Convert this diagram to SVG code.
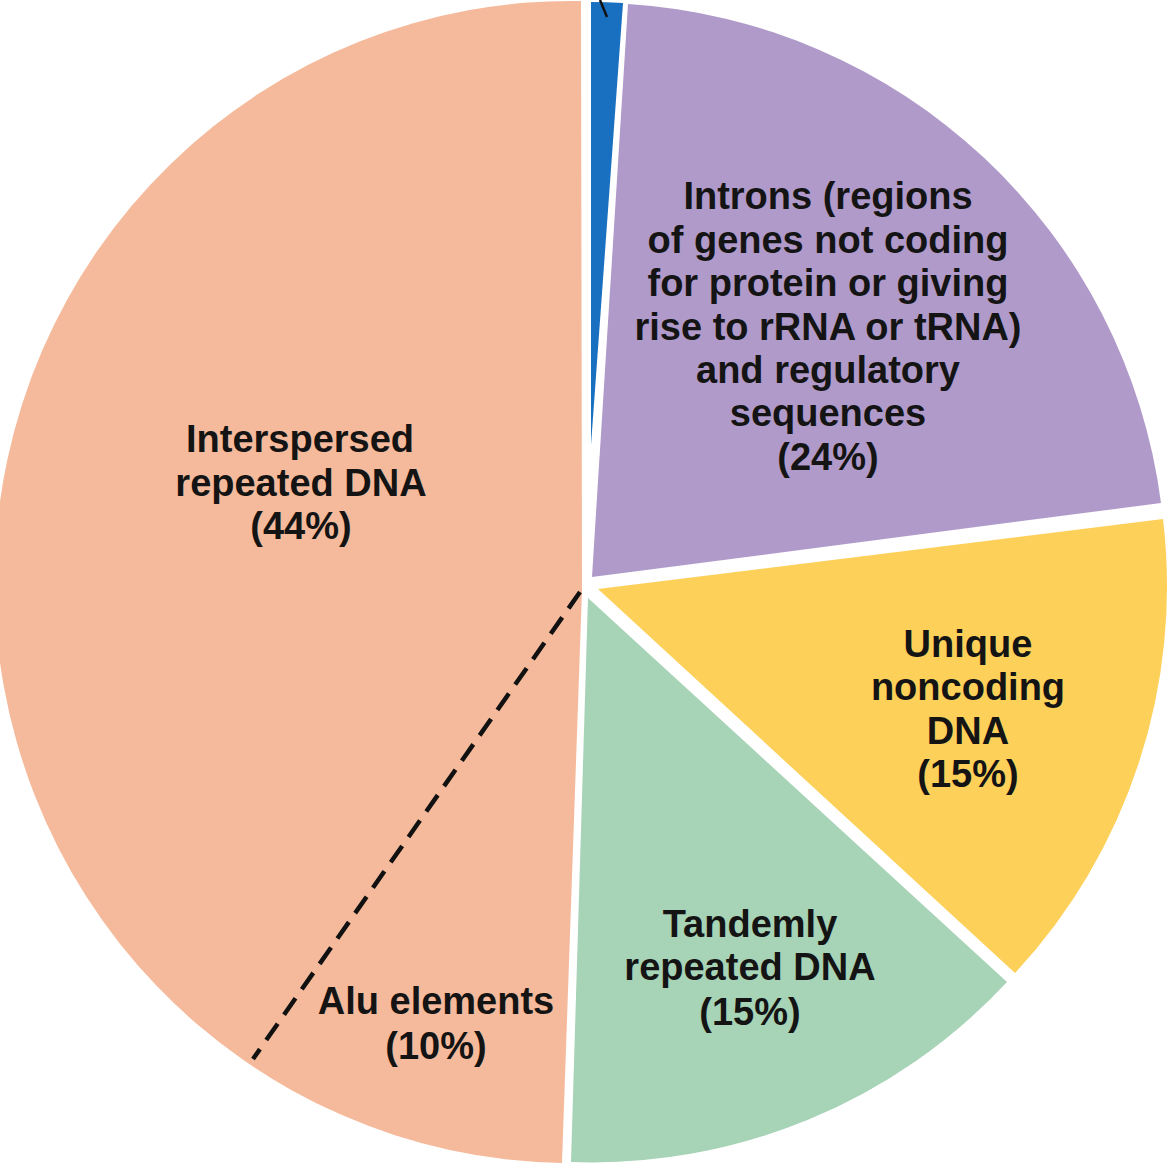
<svg xmlns="http://www.w3.org/2000/svg" width="1169" height="1166" viewBox="0 0 1169 1166">
<style>
  .lbl { font-family: "Liberation Sans", Arial, Helvetica, sans-serif; font-weight: bold; font-size: 38px; fill: #141414; text-anchor: middle; }
  .dash { stroke: #111; stroke-width: 4.5; stroke-dasharray: 20 11; fill: none; }
  .lead { stroke: #111; stroke-width: 2.5; fill: none; }
</style>
<rect x="0" y="0" width="1169" height="1166" fill="#ffffff"/>
<g id="interspersed">
  <path d="M582,590 L581,1 A577,581 0 1 0 562,1163 Z" fill="#F5BA9B"/>
  <text class="lbl" x="300" y="452">Interspersed</text>
  <text class="lbl" x="301" y="496">repeated DNA</text>
  <text class="lbl" x="301" y="539">(44%)</text>
</g>
<g id="alu">
  <text class="lbl" x="436" y="1014">Alu elements</text>
  <text class="lbl" x="436" y="1059">(10%)</text>
</g>
<g id="exons">
  <path d="M591,445 L591,2 A575,575 0 0 1 623,3 Z" fill="#1A70C0"/>
</g>
<g id="introns">
  <path d="M592,577 L628,4 A574,574 0 0 1 1161,503 Z" fill="#B09ACA"/>
  <text class="lbl" x="828" y="209">Introns (regions</text>
  <text class="lbl" x="828" y="253">of genes not coding</text>
  <text class="lbl" x="828" y="296">for protein or giving</text>
  <text class="lbl" x="828" y="340">rise to rRNA or tRNA)</text>
  <text class="lbl" x="828" y="383">and regulatory</text>
  <text class="lbl" x="828" y="426">sequences</text>
  <text class="lbl" x="828" y="470">(24%)</text>
</g>
<g id="unique">
  <path d="M598,589 L1163,519 A568,568 0 0 1 1015,973 Z" fill="#FDD05A"/>
  <text class="lbl" x="968" y="657">Unique</text>
  <text class="lbl" x="968" y="700">noncoding</text>
  <text class="lbl" x="968" y="744">DNA</text>
  <text class="lbl" x="968" y="787">(15%)</text>
</g>
<g id="tandem">
  <path d="M588,598 L1007,982 A566,566 0 0 1 571,1162 Z" fill="#A7D3B6"/>
  <text class="lbl" x="750" y="937">Tandemly</text>
  <text class="lbl" x="750" y="980">repeated DNA</text>
  <text class="lbl" x="750" y="1025">(15%)</text>
</g>
<g id="connectors">
  <line class="dash" x1="580" y1="592" x2="253" y2="1059"/>
  <line class="lead" x1="600" y1="0" x2="607" y2="17"/>
</g>
</svg>
